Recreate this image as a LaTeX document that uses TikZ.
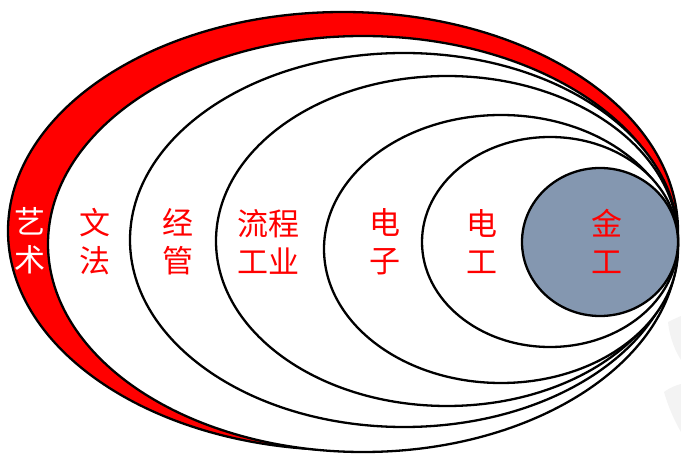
\documentclass[tikz,border=0pt]{standalone}
\usepackage{fontspec}
\newfontfamily\cjkfont{Noto Sans CJK SC}
\definecolor{ringred}{HTML}{FF0000}
\definecolor{coreblue}{HTML}{8497B0}
\definecolor{faint}{HTML}{F3F3F3}
\begin{document}
\begin{tikzpicture}[x=1pt,y=-1pt,
  ring/.style={draw=black,line width=2.3pt},
  lbl/.style={font=\cjkfont\fontsize{31}{38}\selectfont,align=center,inner sep=0pt,text=ringred}]
\useasboundingbox (0,0) rectangle (681,454);
% faint background shapes
\fill[faint] (668,322) .. controls (676,318) and (681,316) .. (681,316) -- (681,360) .. controls (676,352) and (670,340) .. (668,322) -- cycle;
\fill[faint] (664,392) .. controls (672,386) and (681,384) .. (681,384) -- (681,432) .. controls (674,420) and (668,406) .. (664,392) -- cycle;
% nested ellipses
\draw[ring,fill=ringred] (343,231) ellipse [x radius=335pt, y radius=219pt];
\draw[ring,fill=white] (363,244) ellipse [x radius=315pt, y radius=208pt];
\draw[ring,fill=white] (404,240) ellipse [x radius=274pt, y radius=187pt];
\draw[ring,fill=white] (447,241) ellipse [x radius=231pt, y radius=165pt];
\draw[ring,fill=white] (501,249) ellipse [x radius=177pt, y radius=134pt];
\draw[ring,fill=white] (550,242) ellipse [x radius=128pt, y radius=105pt];
\draw[ring,fill=coreblue] (600,242) ellipse [x radius=78pt, y radius=74pt];
% labels
\node[lbl,text=white] (art) at (30,241) {艺\\术};
\node[lbl] (law) at (95,242) {文\\法};
\node[lbl] (mgmt) at (178,242) {经\\管};
\node[lbl] (proc) at (268,242) {流程\\工业};
\node[lbl] (elec) at (385,242) {电\\子};
\node[lbl] (elen) at (482,242) {电\\工};
\node[lbl] (metal) at (607,241) {金\\工};
\end{tikzpicture}
\end{document}
